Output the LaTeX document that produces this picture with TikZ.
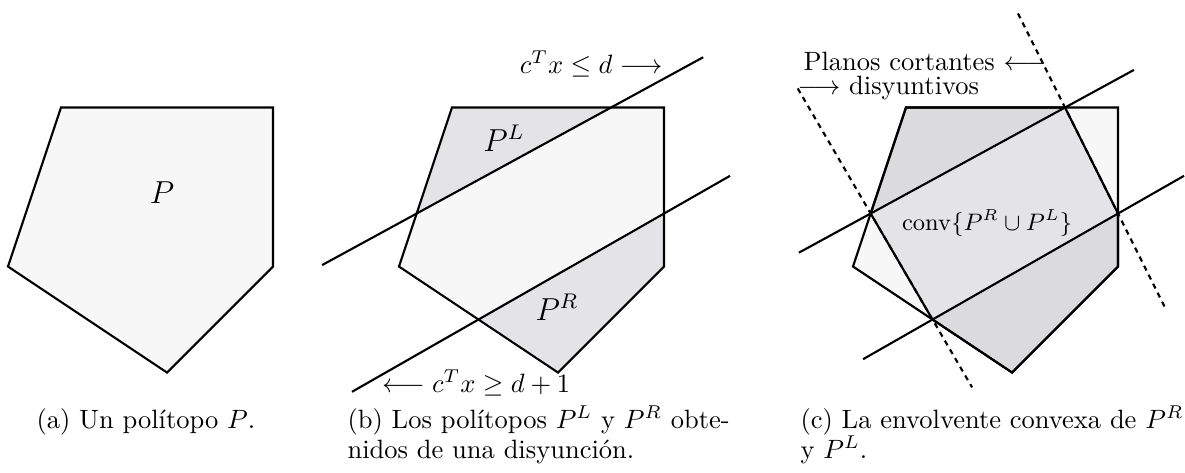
\documentclass[tikz,border=0pt]{standalone}
\usepackage{amsmath,amssymb}
\definecolor{lightfill}{RGB}{247,247,247}
\definecolor{midfill}{RGB}{228,228,230}
\definecolor{darkfill}{RGB}{219,219,221}
\tikzset{
  edge/.style={line width=0.8pt, line join=miter},
  cutline/.style={line width=0.8pt},
  dashline/.style={line width=0.8pt, dash pattern=on 2pt off 1.8pt},
  lbl/.style={inner sep=0pt, font=\fontsize{10}{10}\selectfont},
  biglbl/.style={inner sep=0pt, font=\fontsize{12}{12}\selectfont},
  smalllbl/.style={inner sep=0pt, font=\fontsize{9}{9}\selectfont},
}
\begin{document}
\begin{tikzpicture}[x=20pt,y=20pt]
\useasboundingbox (0,0) rectangle (22.358,8.906);
% ---------- (a)
\begin{scope}[shift={(0.151,3.877)}]
  \coordinate (a1) at (0,0); \coordinate (a2) at (1,3); \coordinate (a3) at (5,3);
  \coordinate (a4) at (5,0); \coordinate (a5) at (3,-2);
  \draw[edge, fill=lightfill] (a1) -- (a2) -- (a3) -- (a4) -- (a5) -- cycle;
\end{scope}
\node[biglbl] (P) at (3.057,5.264) {$P$};
% ---------- (b)
\begin{scope}[shift={(7.528,3.877)}]
  \coordinate (b1) at (0,0); \coordinate (b2) at (1,3); \coordinate (b3) at (5,3);
  \coordinate (b4) at (5,0); \coordinate (b5) at (3,-2);
  \coordinate (bl1) at (1/3,1); \coordinate (bl2) at (4,3);
  \coordinate (br1) at (5,1); \coordinate (br2) at (1.5,-1);
  \coordinate (bu0) at (-1.45,0.0275); \coordinate (bu1) at (5.74,3.949);
  \coordinate (bd0) at (-0.887,-2.364); \coordinate (bd1) at (6.245,1.711);
  \fill[lightfill] (b1) -- (b2) -- (b3) -- (b4) -- (b5) -- cycle;
  \fill[midfill] (bl1) -- (b2) -- (bl2) -- cycle;
  \fill[midfill] (br2) -- (br1) -- (b4) -- (b5) -- cycle;
  \draw[edge] (b1) -- (b2) -- (b3) -- (b4) -- (b5) -- cycle;
  \draw[cutline] (bu0) -- (bu1);
  \draw[cutline] (bd0) -- (bd1);
\end{scope}
\node[biglbl] (PL) at (9.509,6.302) {$P^L$};
\node[biglbl] (PR) at (10.509,3.113) {$P^R$};
\node[lbl, anchor=base east] (ineq1) at (12.509,7.528) {$c^Tx \leq d \longrightarrow$};
\node[lbl, anchor=base west] (ineq2) at (7.2,1.509) {$\longleftarrow c^Tx \geq d+1$};
% ---------- (c)
\begin{scope}[shift={(16.094,3.877)}]
  \coordinate (c1) at (0,0); \coordinate (c2) at (1,3); \coordinate (c3) at (5,3);
  \coordinate (c4) at (5,0); \coordinate (c5) at (3,-2);
  \coordinate (cl1) at (1/3,1); \coordinate (cl2) at (4,3);
  \coordinate (cr1) at (5,1); \coordinate (cr2) at (1.5,-1);
  \coordinate (cu0) at (-1.02,0.262); \coordinate (cu1) at (5.30,3.709);
  \coordinate (cd0) at (0.19,-1.749); \coordinate (cd1) at (6.245,1.711);
  \coordinate (ce0) at (-1.043,3.36); \coordinate (ce1) at (2.247,-2.28);
  \coordinate (cf0) at (3.113,4.774); \coordinate (cf1) at (5.896,-0.792);
  \fill[lightfill] (c1) -- (c2) -- (c3) -- (c4) -- (c5) -- cycle;
  \fill[midfill] (cl1) -- (c2) -- (cl2) -- (cr1) -- (c4) -- (c5) -- (cr2) -- cycle;
  \fill[darkfill] (cl1) -- (c2) -- (cl2) -- cycle;
  \fill[darkfill] (cr2) -- (cr1) -- (c4) -- (c5) -- cycle;
  \draw[edge] (c1) -- (c2) -- (c3) -- (c4) -- (c5) -- cycle;
  \draw[edge] (cl1) -- (c2) -- (cl2) -- (cr1) -- (c4) -- (c5) -- (cr2) -- cycle;
  \draw[cutline] (cu0) -- (cu1);
  \draw[cutline] (cd0) -- (cd1);
  \draw[dashline] (ce0) -- (ce1);
  \draw[dashline] (cf0) -- (cf1);
\end{scope}
\node[smalllbl] (conv) at (18.623,4.698) {$\operatorname{conv}\{P^R \cup P^L\}$};
\node[lbl, anchor=base west] (plan1) at (15.15,7.57) {Planos cortantes $\longleftarrow$};
\node[lbl, anchor=base west] (plan2) at (15.04,7.12) {$\longrightarrow$ disyuntivos};
% ---------- captions
\node[lbl, anchor=base west] (capa) at (0.679,0.830) {(a) Un polítopo $P$.};
\node[lbl, anchor=base west] (capb1) at (6.547,0.830) {(b) Los polítopos $P^L$ y $P^R$ obte-};
\node[lbl, anchor=base west] (capb2) at (6.547,0.264) {nidos de una disyunción.};
\node[lbl, anchor=base west] (capc1) at (15.094,0.830) {(c) La envolvente convexa de $P^R$};
\node[lbl, anchor=base west] (capc2) at (15.094,0.264) {y $P^L$.};
\end{tikzpicture}
\end{document}
